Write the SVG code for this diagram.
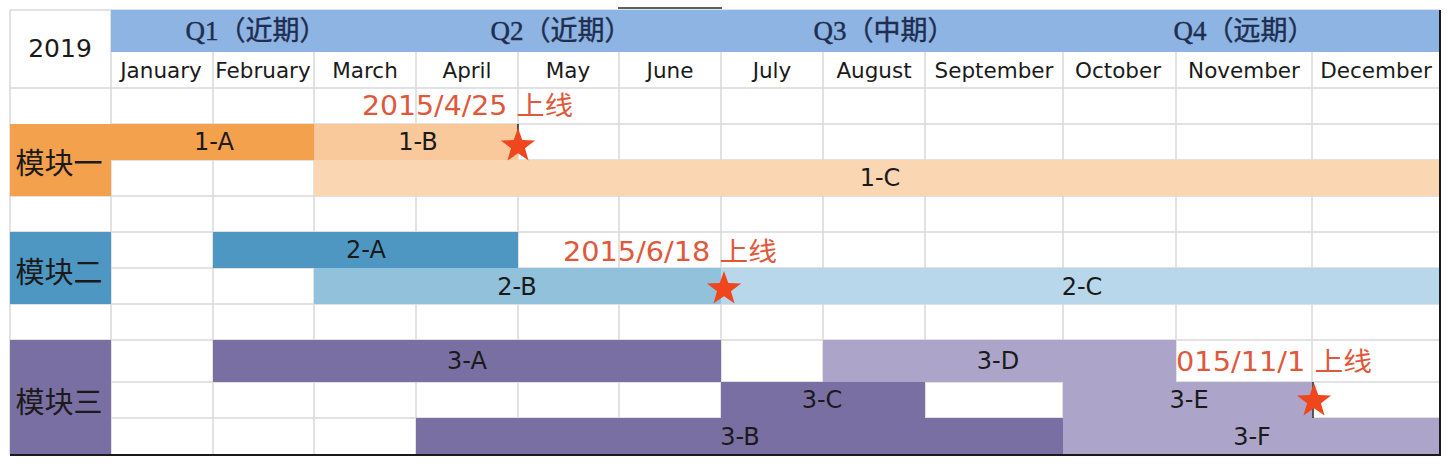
<svg xmlns="http://www.w3.org/2000/svg" xmlns:xlink="http://www.w3.org/1999/xlink" width="1453" height="469" viewBox="0 0 1453 469">
<style>
.grid{stroke:#d9d9d9;stroke-width:1.5;fill:none}
.t{font-family:"DejaVu Sans","Noto Sans CJK SC",sans-serif;fill:#1a1a1a;text-anchor:middle;dominant-baseline:central}
.m{font-size:21.5px}
.b{font-size:24px}
.q{font-family:"Liberation Serif","Noto Sans CJK SC",serif;font-size:27px;fill:#1f2d4f;text-anchor:middle;dominant-baseline:central;stroke:#1f2d4f;stroke-width:0.4}
.mod{font-family:"Noto Sans CJK SC",sans-serif;font-size:29px;fill:#1a1a1a;text-anchor:middle;dominant-baseline:central}
.red{font-family:"DejaVu Sans","Noto Sans CJK SC",sans-serif;font-size:26px;fill:#e0583c;dominant-baseline:central}
.star{fill:#f0461e}
</style>
<defs>
<polygon id="star" points="0,-18 4.29,-5.91 17.12,-5.56 6.94,2.26 10.58,14.56 0,7.3 -10.58,14.56 -6.94,2.26 -17.12,-5.56 -4.29,-5.91"/>
</defs>
<rect x="0" y="0" width="1453" height="469" fill="#ffffff"/>
<line x1="618" y1="8" x2="722" y2="8" stroke="#5a6066" stroke-width="2"/>

<g id="grid">
<path class="grid" d="M10,10 H1440 M10,10 V455 M10,88 H1440 M111,124 H1440 M10,196 H1440 M111,160 H1440 M10,232 H1440 M111,268 H1440 M10,304 H1440 M10,340 H1440 M111,382 H1440 M111,418 H1440"/>
<path class="grid" d="M111,10 V455 M213,52 V455 M314,52 V455 M416,52 V455 M518,52 V455 M619,52 V455 M721,52 V455 M823,52 V455 M925,52 V455 M1063,52 V455 M1176,52 V455 M1312,52 V455"/>
</g>

<g id="header">
<rect x="111" y="10" width="1329" height="42" fill="#8db4e2"/>
<text class="q" x="256" y="31">Q1（近期）</text>
<text class="q" x="561" y="31">Q2（近期）</text>
<text class="q" x="884" y="31">Q3（中期）</text>
<text class="q" x="1244" y="31">Q4（远期）</text>
<text class="t" x="60" y="48" style="font-size:25px">2019</text>
<text class="t m" x="161" y="70">January</text>
<text class="t m" x="263" y="70">February</text>
<text class="t m" x="365" y="70">March</text>
<text class="t m" x="467" y="70">April</text>
<text class="t m" x="568" y="70">May</text>
<text class="t m" x="670" y="70">June</text>
<text class="t m" x="772" y="70">July</text>
<text class="t m" x="874" y="70">August</text>
<text class="t m" x="994" y="70">September</text>
<text class="t m" x="1118" y="70">October</text>
<text class="t m" x="1244" y="70">November</text>
<text class="t m" x="1376" y="70">December</text>
</g>

<g id="module1">
<rect x="10" y="124" width="101" height="72" fill="#f4a14e"/>
<text class="mod" x="59" y="161">模块一</text>
</g>
<g id="bar-1A"><rect x="111" y="124" width="203" height="36" fill="#f4a14e"/><text class="t b" x="214" y="142">1-A</text></g>
<g id="bar-1B"><rect x="314" y="124" width="204" height="36" fill="#f9c99b"/><text class="t b" x="418" y="142">1-B</text></g>
<g id="bar-1C"><rect x="314" y="160" width="1126" height="36" fill="#fad6b3"/><text class="t b" x="880" y="178">1-C</text></g>

<g id="module2">
<rect x="10" y="232" width="101" height="72" fill="#4e97c3"/>
<text class="mod" x="59" y="270">模块二</text>
</g>
<g id="bar-2A"><rect x="213" y="232" width="305" height="36" fill="#4e97c3"/><text class="t b" x="366" y="250">2-A</text></g>
<g id="bar-2B"><rect x="314" y="268" width="407" height="36" fill="#92c1dc"/><text class="t b" x="517" y="287">2-B</text></g>
<g id="bar-2C"><rect x="721" y="268" width="719" height="36" fill="#b8d7ea"/><text class="t b" x="1082" y="287">2-C</text></g>

<g id="module3">
<rect x="10" y="340" width="101" height="115" fill="#7a6fa2"/>
<text class="mod" x="59" y="400">模块三</text>
</g>
<g id="bar-3A"><rect x="213" y="340" width="508" height="42" fill="#7a6fa2"/><text class="t b" x="467" y="361">3-A</text></g>
<g id="bar-3D"><rect x="823" y="340" width="353" height="42" fill="#ada4c9"/><text class="t b" x="998" y="361">3-D</text></g>
<g id="bar-3C"><rect x="721" y="382" width="204" height="36" fill="#7a6fa2"/><text class="t b" x="822" y="400">3-C</text></g>
<g id="bar-3E"><rect x="1063" y="382" width="249" height="36" fill="#ada4c9"/><text class="t b" x="1189" y="400">3-E</text></g>
<g id="bar-3B"><rect x="416" y="418" width="647" height="37" fill="#7a6fa2"/><text class="t b" x="740" y="437">3-B</text></g>
<g id="bar-3F"><rect x="1063" y="418" width="377" height="37" fill="#ada4c9"/><text class="t b" x="1252" y="437">3-F</text></g>

<g id="milestone1">
<text class="red" x="362" y="106" textLength="211" lengthAdjust="spacingAndGlyphs">2015/4/25 上线</text>
<line x1="518" y1="124" x2="518" y2="150" stroke="#222" stroke-width="1.5"/>
<use xlink:href="#star" class="star" x="518" y="146"/>
</g>
<g id="milestone2">
<text class="red" x="563" y="252" textLength="214" lengthAdjust="spacingAndGlyphs">2015/6/18 上线</text>
<use xlink:href="#star" class="star" x="724" y="289"/>
</g>
<g id="milestone3">
<text class="red" x="1176" y="362" textLength="196" lengthAdjust="spacingAndGlyphs">015/11/1 上线</text>
<line x1="1313" y1="382" x2="1313" y2="418" stroke="#222" stroke-width="1.5"/>
<use xlink:href="#star" class="star" x="1314" y="401"/>
</g>

<g id="border">
<line x1="1440" y1="10" x2="1440" y2="456" stroke="#1a1a1a" stroke-width="2"/>
<line x1="10" y1="455" x2="1441" y2="455" stroke="#1a1a1a" stroke-width="2"/>
</g>
</svg>
